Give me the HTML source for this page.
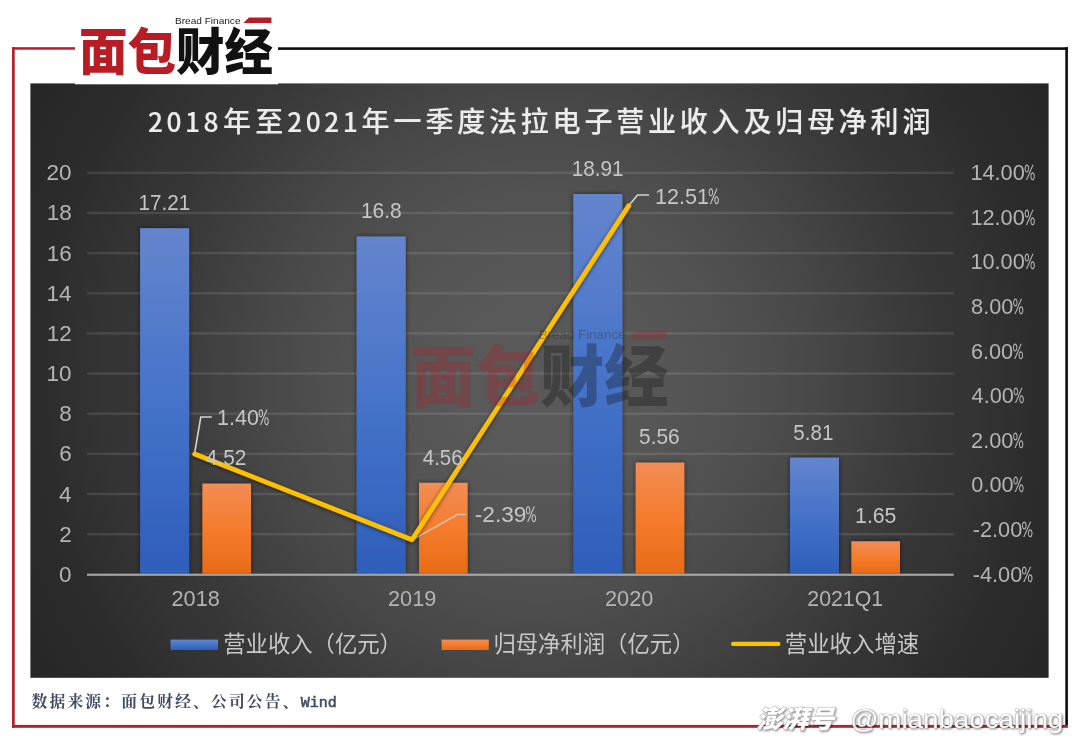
<!DOCTYPE html>
<html lang="zh-CN">
<head>
<meta charset="utf-8">
<title>2018年至2021年一季度法拉电子营业收入及归母净利润</title>
<style>
html,body{margin:0;padding:0;background:#fff;}
body{width:1080px;height:740px;overflow:hidden;position:relative;font-family:"Liberation Sans","Noto Sans CJK SC",sans-serif;}
svg{position:absolute;left:0;top:0;display:block;}
text{font-family:"Liberation Sans","Noto Sans CJK SC",sans-serif;}
.ax{fill:#b4b4b4;}
.dl{fill:#c6c6c6;}
.lg{font-family:"Noto Sans CJK SC",sans-serif;fill:#c8c8c8;}
.ttl{font-family:"Noto Sans CJK SC","Liberation Sans",sans-serif;font-size:28px;font-weight:500;fill:#ececec;stroke:#ececec;stroke-width:0.12px;}
.logo{font-family:"Liberation Sans","Noto Sans CJK SC",sans-serif;font-weight:900;}
.wmk{font-family:"Noto Sans CJK SC",sans-serif;font-weight:900;font-style:italic;}
.pc{font-family:"WenQuanYi Zen Hei","Liberation Sans",sans-serif;}
.src{font-family:"Liberation Serif","Noto Serif CJK SC",serif;font-weight:700;fill:#414c66;}
</style>
</head>
<body>
<svg width="1080" height="740" viewBox="0 0 1080 740">
<defs>
<radialGradient id="bg" gradientUnits="userSpaceOnUse" cx="539.5" cy="380.5" r="590">
<stop offset="0" stop-color="rgb(89,89,89)"/><stop offset="0.12" stop-color="rgb(89,89,89)"/><stop offset="0.2" stop-color="rgb(87,87,87)"/><stop offset="0.327" stop-color="rgb(81,81,81)"/><stop offset="0.422" stop-color="rgb(75,75,75)"/><stop offset="0.4915" stop-color="rgb(70,70,70)"/><stop offset="0.6" stop-color="rgb(61,61,61)"/><stop offset="0.686" stop-color="rgb(54,54,54)"/><stop offset="0.737" stop-color="rgb(52,52,52)"/><stop offset="0.844" stop-color="rgb(44,44,44)"/><stop offset="0.92" stop-color="rgb(41,41,41)"/><stop offset="1.0" stop-color="rgb(38,38,38)"/>
</radialGradient>
<linearGradient id="gb" x1="0" y1="0" x2="0" y2="1">
<stop offset="0" stop-color="#6485cd"/><stop offset="0.5" stop-color="#4573c9"/><stop offset="1" stop-color="#2d5eba"/>
</linearGradient>
<linearGradient id="go" x1="0" y1="0" x2="0" y2="1">
<stop offset="0" stop-color="#f18d55"/><stop offset="0.5" stop-color="#f57c2c"/><stop offset="1" stop-color="#e76b17"/>
</linearGradient>
<filter id="sh" x="-30%" y="-10%" width="160%" height="120%">
<feGaussianBlur in="SourceAlpha" stdDeviation="2.5" result="b"/>
<feComponentTransfer in="b" result="c"><feFuncA type="linear" slope="0.55"/></feComponentTransfer>
<feMerge><feMergeNode in="c"/><feMergeNode in="SourceGraphic"/></feMerge>
</filter>
<filter id="shl" x="-10%" y="-10%" width="120%" height="120%">
<feGaussianBlur in="SourceAlpha" stdDeviation="2" result="b"/>
<feOffset in="b" dx="0" dy="1" result="o"/>
<feComponentTransfer in="o" result="c"><feFuncA type="linear" slope="0.6"/></feComponentTransfer>
<feMerge><feMergeNode in="c"/><feMergeNode in="SourceGraphic"/></feMerge>
</filter>
<filter id="wm" x="-5%" y="-20%" width="110%" height="150%">
<feGaussianBlur in="SourceAlpha" stdDeviation="0.8" result="b"/>
<feOffset in="b" dx="1.2" dy="1.2" result="o"/>
<feComponentTransfer in="o" result="c"><feFuncA type="linear" slope="0.5"/></feComponentTransfer>
<feMerge><feMergeNode in="c"/><feMergeNode in="SourceGraphic"/></feMerge>
</filter>
</defs>

<rect x="12" y="47.2" width="2.7" height="680.5" fill="#b81f2a"/>
<rect x="12" y="47.2" width="66" height="2.5" fill="#b81f2a"/>
<rect x="276" y="47.3" width="791.9" height="2.6" fill="#0c0c0c"/>
<rect x="1065.3" y="47.3" width="2.6" height="679" fill="#0c0c0c"/>
<rect x="12" y="724.9" width="1055.9" height="2.9" fill="#b81f2a"/>
<rect x="30.4" y="83.4" width="1018.2" height="594.4" fill="url(#bg)"/>
<rect x="87" y="533.00" width="866.7" height="2.4" fill="#fff" fill-opacity="0.105"/>
<rect x="87" y="492.85" width="866.7" height="2.4" fill="#fff" fill-opacity="0.105"/>
<rect x="87" y="452.70" width="866.7" height="2.4" fill="#fff" fill-opacity="0.105"/>
<rect x="87" y="412.55" width="866.7" height="2.4" fill="#fff" fill-opacity="0.105"/>
<rect x="87" y="372.40" width="866.7" height="2.4" fill="#fff" fill-opacity="0.105"/>
<rect x="87" y="332.25" width="866.7" height="2.4" fill="#fff" fill-opacity="0.105"/>
<rect x="87" y="292.10" width="866.7" height="2.4" fill="#fff" fill-opacity="0.105"/>
<rect x="87" y="251.95" width="866.7" height="2.4" fill="#fff" fill-opacity="0.105"/>
<rect x="87" y="211.80" width="866.7" height="2.4" fill="#fff" fill-opacity="0.105"/>
<rect x="87" y="171.65" width="866.7" height="2.4" fill="#fff" fill-opacity="0.105"/>
<g filter="url(#sh)">
<rect x="140.1" y="228.2" width="49.0" height="345.4" fill="url(#gb)"/>
<rect x="202.4" y="483.6" width="48.6" height="90.0" fill="url(#go)"/>
<rect x="356.7" y="236.5" width="49.0" height="337.1" fill="url(#gb)"/>
<rect x="419.0" y="482.8" width="48.6" height="90.8" fill="url(#go)"/>
<rect x="573.4" y="194.0" width="49.0" height="379.6" fill="url(#gb)"/>
<rect x="635.7" y="462.6" width="48.6" height="111.0" fill="url(#go)"/>
<rect x="790.0" y="457.6" width="49.0" height="116.0" fill="url(#gb)"/>
<rect x="851.4" y="541.3" width="48.6" height="32.3" fill="url(#go)"/>
</g>
<rect x="87" y="573.7" width="866.7" height="2.1" fill="#a8a8a8"/>
<g fill="none" stroke="#d4d4d4" stroke-width="1.6">
<polyline points="194.5,454 200.8,417 211.8,417"/>
<polyline points="412,540 457.5,514.5 466,514.5" stroke-opacity="0.75"/>
<polyline points="629,205.5 637.5,195 649,195"/>
</g>
<polyline filter="url(#shl)" points="194.7,454 412,539.8 628.8,205.6" fill="none" stroke="#ffc000" stroke-width="4.7" stroke-linejoin="round" stroke-linecap="round"/>
<text class="ax" font-size="22.5" transform="translate(58.95,581.80) scale(1.0000,1)">0</text>
<text class="ax" font-size="22.5" transform="translate(59.20,541.65) scale(1.0000,1)">2</text>
<text class="ax" font-size="22.5" transform="translate(58.95,501.50) scale(1.0000,1)">4</text>
<text class="ax" font-size="22.5" transform="translate(59.20,461.35) scale(1.0000,1)">6</text>
<text class="ax" font-size="22.5" transform="translate(59.20,421.20) scale(1.0000,1)">8</text>
<text class="ax" font-size="22.5" transform="translate(46.45,381.05) scale(1.0000,1)">10</text>
<text class="ax" font-size="22.5" transform="translate(46.70,340.90) scale(1.0000,1)">12</text>
<text class="ax" font-size="22.5" transform="translate(46.45,300.75) scale(1.0000,1)">14</text>
<text class="ax" font-size="22.5" transform="translate(46.70,260.60) scale(1.0000,1)">16</text>
<text class="ax" font-size="22.5" transform="translate(46.70,220.45) scale(1.0000,1)">18</text>
<text class="ax" font-size="22.5" transform="translate(46.45,180.30) scale(1.0000,1)">20</text>
<text class="ax" font-size="22.3" transform="translate(972.78,581.70) scale(0.9745,1)">-4.00<tspan class="pc" dx="-0.68" textLength="11.70" lengthAdjust="spacingAndGlyphs">%</tspan></text>
<text class="ax" font-size="22.3" transform="translate(972.78,537.09) scale(0.9745,1)">-2.00<tspan class="pc" dx="-0.68" textLength="11.70" lengthAdjust="spacingAndGlyphs">%</tspan></text>
<text class="ax" font-size="22.3" transform="translate(971.37,492.48) scale(0.9750,1)">0.00<tspan class="pc" dx="-0.74" textLength="11.25" lengthAdjust="spacingAndGlyphs">%</tspan></text>
<text class="ax" font-size="22.3" transform="translate(971.12,447.87) scale(0.9750,1)">2.00<tspan class="pc" dx="-0.74" textLength="11.25" lengthAdjust="spacingAndGlyphs">%</tspan></text>
<text class="ax" font-size="22.3" transform="translate(971.61,403.26) scale(0.9750,1)">4.00<tspan class="pc" dx="-0.74" textLength="11.25" lengthAdjust="spacingAndGlyphs">%</tspan></text>
<text class="ax" font-size="22.3" transform="translate(970.88,358.64) scale(0.9750,1)">6.00<tspan class="pc" dx="-0.74" textLength="11.25" lengthAdjust="spacingAndGlyphs">%</tspan></text>
<text class="ax" font-size="22.3" transform="translate(971.12,314.03) scale(0.9750,1)">8.00<tspan class="pc" dx="-0.74" textLength="11.25" lengthAdjust="spacingAndGlyphs">%</tspan></text>
<text class="ax" font-size="22.3" transform="translate(970.39,269.42) scale(0.9750,1)">10.00<tspan class="pc" dx="-0.64" textLength="11.25" lengthAdjust="spacingAndGlyphs">%</tspan></text>
<text class="ax" font-size="22.3" transform="translate(970.39,224.81) scale(0.9750,1)">12.00<tspan class="pc" dx="-0.64" textLength="11.25" lengthAdjust="spacingAndGlyphs">%</tspan></text>
<text class="ax" font-size="22.3" transform="translate(970.39,180.20) scale(0.9750,1)">14.00<tspan class="pc" dx="-0.64" textLength="11.25" lengthAdjust="spacingAndGlyphs">%</tspan></text>
<text class="ax" font-size="22.3" transform="translate(171.53,605.60) scale(0.9737,1)">2018</text>
<text class="ax" font-size="22.3" transform="translate(388.03,605.60) scale(0.9726,1)">2019</text>
<text class="ax" font-size="22.3" transform="translate(605.03,605.60) scale(0.9738,1)">2020</text>
<text class="ax" font-size="22.3" transform="translate(807.30,605.60) scale(0.9547,1)">2021Q1</text>
<text class="dl" font-size="22.6" transform="translate(138.40,210.00) scale(0.9163,1)">17.21</text>
<text class="dl" font-size="22.6" transform="translate(360.88,218.00) scale(0.9273,1)">16.8</text>
<text class="dl" font-size="22.6" transform="translate(571.65,175.75) scale(0.9163,1)">18.91</text>
<text class="dl" font-size="22.6" transform="translate(793.34,439.50) scale(0.9107,1)">5.81</text>
<text class="dl" font-size="22.6" transform="translate(205.79,464.50) scale(0.9235,1)">4.52</text>
<text class="dl" font-size="22.6" transform="translate(422.80,464.50) scale(0.9059,1)">4.56</text>
<text class="dl" font-size="22.6" transform="translate(639.08,444.25) scale(0.9226,1)">5.56</text>
<text class="dl" font-size="22.6" transform="translate(855.11,522.50) scale(0.9394,1)">1.65</text>
<text class="dl" font-size="22.6" transform="translate(217.08,425.00) scale(0.9515,1)">1.40<tspan class="pc" dx="-0.81" textLength="11.48" lengthAdjust="spacingAndGlyphs">%</tspan></text>
<text class="dl" font-size="22.6" transform="translate(474.75,521.75) scale(1.0030,1)">-2.39<tspan class="pc" dx="-0.84" textLength="10.89" lengthAdjust="spacingAndGlyphs">%</tspan></text>
<text class="dl" font-size="22.6" transform="translate(655.08,203.75) scale(0.9535,1)">12.51<tspan class="pc" dx="-0.88" textLength="11.46" lengthAdjust="spacingAndGlyphs">%</tspan></text>
<rect x="170.5" y="639.6" width="47.5" height="10.4" fill="url(#gb)"/>
<text class="lg" font-size="22.35" transform="translate(223.20,651.90) scale(1.0000,1)">营业收入（亿元）</text>
<rect x="441.6" y="639.6" width="47.2" height="10.4" fill="url(#go)"/>
<text class="lg" font-size="22.35" transform="translate(493.40,651.90) scale(1.0000,1)">归母净利润（亿元）</text>
<rect x="731" y="641.8" width="49.5" height="4.2" rx="2.1" fill="#ffc000"/>
<text class="lg" font-size="22.35" transform="translate(784.74,651.90) scale(1.0038,1)">营业收入增速</text>
<text class="ttl" y="131.9" text-anchor="middle"><tspan x="155.4" font-size="26.3">2</tspan><tspan x="173.9" font-size="26.3">0</tspan><tspan x="192.4" font-size="26.3">1</tspan><tspan x="210.9" font-size="26.3">8</tspan><tspan x="237.0">年</tspan><tspan x="269.2">至</tspan><tspan x="294.7" font-size="26.3">2</tspan><tspan x="313.2" font-size="26.3">0</tspan><tspan x="331.7" font-size="26.3">2</tspan><tspan x="350.2" font-size="26.3">1</tspan><tspan x="375.6">年</tspan><tspan x="407.6">一</tspan><tspan x="439.4">季</tspan><tspan x="471.2">度</tspan><tspan x="503.0">法</tspan><tspan x="534.8">拉</tspan><tspan x="566.6">电</tspan><tspan x="598.4">子</tspan><tspan x="630.2">营</tspan><tspan x="662.0">业</tspan><tspan x="693.8">收</tspan><tspan x="725.6">入</tspan><tspan x="757.4">及</tspan><tspan x="789.2">归</tspan><tspan x="821.0">母</tspan><tspan x="852.8">净</tspan><tspan x="884.6">利</tspan><tspan x="916.4">润</tspan></text>
<rect x="75" y="10" width="203" height="74.3" fill="#fff"/>
<g>
<text x="175" y="23.6" font-size="9.6" fill="#222" fill-opacity="1" textLength="65.5" lengthAdjust="spacingAndGlyphs">Bread Finance</text>
<polygon points="249,17.4 271.4,17.4 271.4,23.1 243.3,23.1" fill="#b81c25" fill-opacity="1"/>
<text class="logo" transform="matrix(1 0 0 1.053 0 -2.97)" x="79" y="69.5" font-size="48" textLength="194" lengthAdjust="spacingAndGlyphs"><tspan fill="#b81c25" fill-opacity="1">面包</tspan><tspan fill="#111" fill-opacity="1">财经</tspan></text>
</g>
<g transform="translate(306.6,307.8) scale(1.326)">
<g>
<text x="175" y="23.6" font-size="9.6" fill="#222" fill-opacity="0.33" textLength="65.5" lengthAdjust="spacingAndGlyphs">Bread Finance</text>
<polygon points="249,17.4 271.4,17.4 271.4,23.1 243.3,23.1" fill="#b81c25" fill-opacity="0.29"/>
<text class="logo" transform="matrix(1 0 0 1.053 0 -2.97)" x="79" y="69.5" font-size="48" textLength="194" lengthAdjust="spacingAndGlyphs"><tspan fill="#b81c25" fill-opacity="0.29">面包</tspan><tspan fill="#111" fill-opacity="0.33">财经</tspan></text>
</g>
</g>
<text class="src" x="31.5" y="706.8" font-size="15.8" letter-spacing="2.15">数据来源：面包财经、公司公告、<tspan font-family="&quot;Liberation Mono&quot;,monospace" font-size="15" font-weight="400" stroke="#414c66" stroke-width="0.55" letter-spacing="0">Wind</tspan></text>
<g filter="url(#wm)" fill="#fff" stroke="#9a9a9a" stroke-width="0.7" paint-order="stroke">
<text class="wmk" font-size="25" transform="translate(756.46,728.30) scale(1.0371,1)">澎湃号</text>
<text class="wma" font-size="26.5" transform="translate(850.21,728.10) scale(1.0460,1)">@mianbaocaijing</text>
</g>
</svg>
</body>
</html>
